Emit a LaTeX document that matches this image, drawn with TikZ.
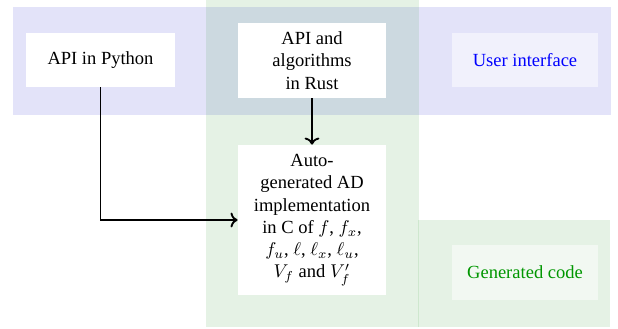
\documentclass[tikz,border=0pt]{standalone}
\usepackage{amsmath}
\usepackage{fontspec}
\setmainfont{Liberation Serif}
\usepackage{tikz}
\usetikzlibrary{positioning, arrows.meta}
\definecolor{UIBlue}{RGB}{0,0,204}
\definecolor{GenGreen}{RGB}{0,128,0}
\definecolor{GenText}{RGB}{0,150,0}

\begin{document}
\begin{tikzpicture}[x=0.54pt, y=0.54pt,
  box/.style={fill=white, align=center, minimum width=80pt, inner sep=0pt},
  layerlabel/.style={fill=white, fill opacity=0.5, text opacity=1, minimum width=79pt, minimum height=29.5pt, inner sep=0pt},
  link/.style={line width=1pt, ->}]
\useasboundingbox (0,0) rectangle (618,328);

% Layers
\fill[UIBlue, fill opacity=0.11] (13,213) rectangle (611,321);
\fill[GenGreen, fill opacity=0.1] (206,1) rectangle (419,328);
\fill[GenGreen, fill opacity=0.1] (418,1) rectangle (610,108);

% Blocks
\node[box, minimum height=29.2pt] (python) at (100.5,268) {API in Python};
\node[box, minimum height=40.5pt] (rust) at (312,267.5) {API and\\algorithms\\in Rust};
\node[box, minimum height=81pt] (autogen) at (312,108) {Auto-\\generated AD\\implementation\\in C of $f$, $f_x$,\\$f_u$, $\ell$, $\ell_x$, $\ell_u$,\\$V_f$ and $V_f'$};

% Layer names
\node[layerlabel, text=blue] (ui) at (525,268) {User interface};
\node[layerlabel, text=GenText] (gen) at (525,55.5) {Generated code};

% Connectors
\draw[link] (python.south) |- (autogen.west);
\draw[link] (rust.south) -- (autogen.north);
\end{tikzpicture}
\end{document}
